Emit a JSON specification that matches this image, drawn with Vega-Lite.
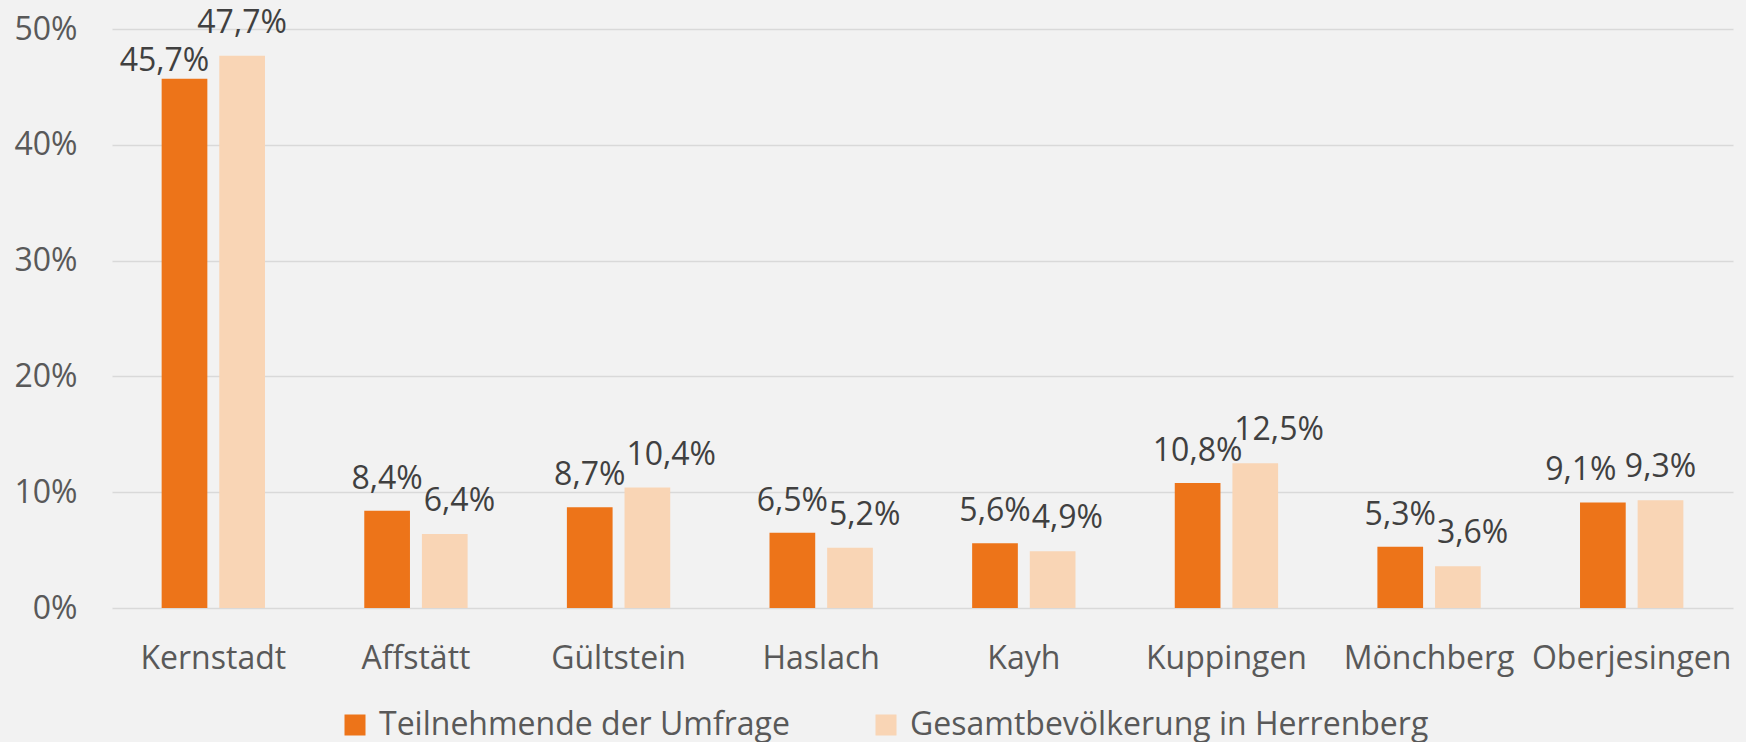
{
  "$schema": "https://vega.github.io/schema/vega-lite/v6.json",
  "autosize": {"type": "none"},
  "width": 1621,
  "height": 579,
  "padding": {"left": 112, "top": 29, "right": 13, "bottom": 134},
  "background": "#f2f2f2",
  "config": {
    "locale": {"number": {"decimal": ",", "thousands": ".", "grouping": [3], "currency": ["", " €"]}},
    "view": {"stroke": null},
    "font": "Open Sans"
  },
  "data": {
    "values": [
      {"ort": "Kernstadt", "gruppe": "Teilnehmende der Umfrage", "anteil": 0.457},
      {"ort": "Kernstadt", "gruppe": "Gesamtbevölkerung in Herrenberg", "anteil": 0.477},
      {"ort": "Affstätt", "gruppe": "Teilnehmende der Umfrage", "anteil": 0.084},
      {"ort": "Affstätt", "gruppe": "Gesamtbevölkerung in Herrenberg", "anteil": 0.064},
      {"ort": "Gültstein", "gruppe": "Teilnehmende der Umfrage", "anteil": 0.087},
      {"ort": "Gültstein", "gruppe": "Gesamtbevölkerung in Herrenberg", "anteil": 0.104},
      {"ort": "Haslach", "gruppe": "Teilnehmende der Umfrage", "anteil": 0.065},
      {"ort": "Haslach", "gruppe": "Gesamtbevölkerung in Herrenberg", "anteil": 0.052},
      {"ort": "Kayh", "gruppe": "Teilnehmende der Umfrage", "anteil": 0.056},
      {"ort": "Kayh", "gruppe": "Gesamtbevölkerung in Herrenberg", "anteil": 0.049},
      {"ort": "Kuppingen", "gruppe": "Teilnehmende der Umfrage", "anteil": 0.108},
      {"ort": "Kuppingen", "gruppe": "Gesamtbevölkerung in Herrenberg", "anteil": 0.125},
      {"ort": "Mönchberg", "gruppe": "Teilnehmende der Umfrage", "anteil": 0.053},
      {"ort": "Mönchberg", "gruppe": "Gesamtbevölkerung in Herrenberg", "anteil": 0.036},
      {"ort": "Oberjesingen", "gruppe": "Teilnehmende der Umfrage", "anteil": 0.091},
      {"ort": "Oberjesingen", "gruppe": "Gesamtbevölkerung in Herrenberg", "anteil": 0.093}
    ]
  },
  "encoding": {
    "x": {
      "field": "ort", "type": "nominal", "sort": null,
      "scale": {"paddingInner": 0.49, "paddingOuter": 0.245},
      "axis": {
        "title": null, "labelAngle": 0, "domain": false, "ticks": false, "tickSize": 0,
        "labelPadding": 35, "labelFontSize": 32, "labelColor": "#595959", "labelFont": "Open Sans",
        "labelLimit": 400, "labelOverlap": false
      }
    },
    "xOffset": {
      "field": "gruppe", "type": "nominal",
      "sort": ["Teilnehmende der Umfrage", "Gesamtbevölkerung in Herrenberg"],
      "scale": {"paddingInner": 0.207, "paddingOuter": 0}
    },
    "y": {
      "field": "anteil", "type": "quantitative",
      "scale": {"domain": [0, 0.5], "nice": false},
      "axis": {
        "title": null, "values": [0, 0.1, 0.2, 0.3, 0.4, 0.5], "format": ".0%",
        "domain": false, "ticks": false, "tickSize": 0, "labelPadding": 35,
        "labelFontSize": 32, "labelColor": "#595959", "labelFont": "Open Sans",
        "gridColor": "#d9d9d9", "gridWidth": 1.5
      }
    }
  },
  "layer": [
    {
      "mark": {"type": "bar"},
      "encoding": {
        "color": {
          "field": "gruppe", "type": "nominal",
          "scale": {
            "domain": ["Teilnehmende der Umfrage", "Gesamtbevölkerung in Herrenberg"],
            "range": ["#ed7419", "#f9d5b5"]
          },
          "legend": {
            "title": null, "orient": "none", "direction": "horizontal",
            "legendX": 227, "legendY": 680, "padding": 0,
            "symbolType": "square", "symbolSize": 441, "symbolStrokeWidth": 0,
            "labelFontSize": 32, "labelColor": "#595959", "labelFont": "Open Sans",
            "labelOffset": 8, "columnPadding": 80, "labelLimit": 800
          }
        }
      }
    },
    {
      "transform": [{"filter": "datum.gruppe === 'Teilnehmende der Umfrage' && datum.ort !== 'Kernstadt' && datum.ort !== 'Oberjesingen'"}],
      "mark": {"type": "text", "align": "center", "baseline": "alphabetic", "dy": -22, "fontSize": 32, "color": "#404040", "font": "Open Sans"},
      "encoding": {"text": {"field": "anteil", "format": ".1%"}}
    },
    {
      "transform": [{"filter": "datum.gruppe === 'Teilnehmende der Umfrage' && datum.ort === 'Kernstadt'"}],
      "mark": {"type": "text", "align": "center", "baseline": "alphabetic", "dx": -20, "dy": -8, "fontSize": 32, "color": "#404040", "font": "Open Sans"},
      "encoding": {"text": {"field": "anteil", "format": ".1%"}}
    },
    {
      "transform": [{"filter": "datum.gruppe === 'Teilnehmende der Umfrage' && datum.ort === 'Oberjesingen'"}],
      "mark": {"type": "text", "align": "center", "baseline": "alphabetic", "dx": -22, "dy": -23, "fontSize": 32, "color": "#404040", "font": "Open Sans"},
      "encoding": {"text": {"field": "anteil", "format": ".1%"}}
    },
    {
      "transform": [{"filter": "datum.gruppe === 'Gesamtbevölkerung in Herrenberg' && datum.ort !== 'Kernstadt' && datum.ort !== 'Oberjesingen'"}],
      "mark": {"type": "text", "align": "left", "baseline": "alphabetic", "dx": -21, "dy": -23, "fontSize": 32, "color": "#404040", "font": "Open Sans"},
      "encoding": {"text": {"field": "anteil", "format": ".1%"}}
    },
    {
      "transform": [{"filter": "datum.gruppe === 'Gesamtbevölkerung in Herrenberg' && (datum.ort === 'Kernstadt' || datum.ort === 'Oberjesingen')"}],
      "mark": {"type": "text", "align": "center", "baseline": "alphabetic", "dy": -23, "fontSize": 32, "color": "#404040", "font": "Open Sans"},
      "encoding": {"text": {"field": "anteil", "format": ".1%"}}
    }
  ]
}
